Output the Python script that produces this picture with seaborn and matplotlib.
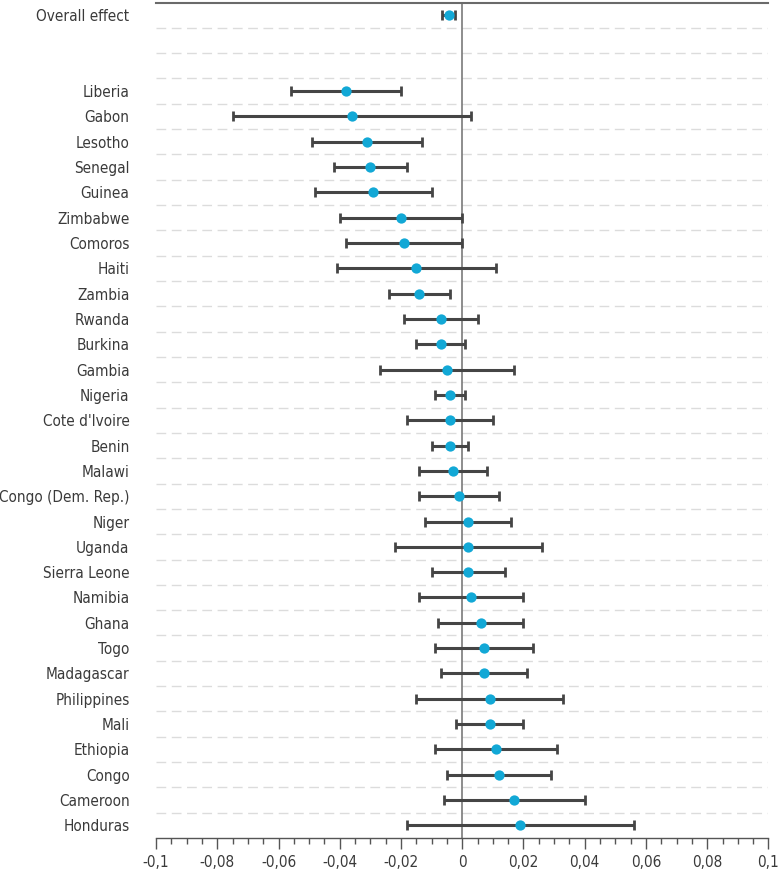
import matplotlib
matplotlib.use("Agg")
import matplotlib.font_manager as fm
import matplotlib.pyplot as plt
import matplotlib.ticker as mticker
import pandas as pd
import seaborn as sns

# Effect estimates with confidence intervals
overall_label = "Overall effect"
overall_est = -0.0044
overall_lo = -0.0065
overall_hi = -0.0023

countries = [
    "Liberia", "Gabon", "Lesotho", "Senegal", "Guinea", "Zimbabwe", "Comoros",
    "Haiti", "Zambia", "Rwanda", "Burkina", "Gambia", "Nigeria", "Cote d'Ivoire",
    "Benin", "Malawi", "Congo (Dem. Rep.)", "Niger", "Uganda", "Sierra Leone",
    "Namibia", "Ghana", "Togo", "Madagascar", "Philippines", "Mali", "Ethiopia",
    "Congo", "Cameroon", "Honduras",
]
estimates = [
    -0.038, -0.036, -0.031, -0.030, -0.029, -0.020, -0.019,
    -0.015, -0.014, -0.007, -0.007, -0.005, -0.004, -0.004,
    -0.004, -0.003, -0.001, 0.002, 0.002, 0.002,
    0.003, 0.006, 0.007, 0.007, 0.009, 0.009, 0.011,
    0.012, 0.017, 0.019,
]
ci_low = [
    -0.056, -0.075, -0.049, -0.042, -0.048, -0.040, -0.038,
    -0.041, -0.024, -0.019, -0.015, -0.027, -0.009, -0.018,
    -0.010, -0.014, -0.014, -0.012, -0.022, -0.010,
    -0.014, -0.008, -0.009, -0.007, -0.015, -0.002, -0.009,
    -0.005, -0.006, -0.018,
]
ci_high = [
    -0.020, 0.003, -0.013, -0.018, -0.010, 0.000, 0.000,
    0.011, -0.004, 0.005, 0.001, 0.017, 0.001, 0.010,
    0.002, 0.008, 0.012, 0.016, 0.026, 0.014,
    0.020, 0.020, 0.023, 0.021, 0.033, 0.020, 0.031,
    0.029, 0.040, 0.056,
]
x_ticks = [-0.1, -0.08, -0.06, -0.04, -0.02, 0, 0.02, 0.04, 0.06, 0.08, 0.1]

DOT = "#12a8d6"
BAR = "#454545"
TEXT = "#3a3a3a"


def pick_narrow_font():
    # the original uses a condensed sans; take one if the system has it
    for f in fm.fontManager.ttflist:
        name = f.name.lower()
        narrow = ("narrow" in name or "condensed" in name
                  or f.stretch in ("condensed", "semi-condensed"))
        if narrow and f.style == "normal" and f.weight in (400, "normal", "regular"):
            return f.name, f.stretch
    return "Lato", "normal"


# overall effect on row 0, two empty rows, then the countries
labels = [overall_label, "", ""] + countries
df = pd.DataFrame({
    "row": [0] + list(range(3, 3 + len(countries))),
    "est": [overall_est] + estimates,
    "lo": [overall_lo] + ci_low,
    "hi": [overall_hi] + ci_high,
})
n_rows = len(labels)

sns.set_style("white")
font_name, font_stretch = pick_narrow_font()
plt.rcParams["font.family"] = [font_name, "DejaVu Sans"]
plt.rcParams["font.stretch"] = font_stretch
label_size = 11 if font_name != "Lato" else 10

fig = plt.figure(figsize=(7.82, 8.74), dpi=100)
ax = fig.add_axes([0.1995, 0.0412, 0.7832, 0.9559])

# dashed separators between rows
for k in range(n_rows - 1):
    ax.axhline(k + 0.5, color="#dcdcdc", lw=1, ls=(0, (7, 4)), zorder=0)

ax.axvline(0, color="#7a7a7a", lw=1.2, zorder=1)

ax.errorbar(
    df["est"], df["row"],
    xerr=[df["est"] - df["lo"], df["hi"] - df["est"]],
    fmt="none", ecolor=BAR, elinewidth=2.2, capsize=3.5, capthick=2, zorder=2,
)
sns.scatterplot(data=df, x="est", y="row", color=DOT, s=55, linewidth=0,
                zorder=3, ax=ax)

ax.set_xlim(-0.1, 0.1)
ax.set_ylim(n_rows - 0.5, -0.5)
ax.set_yticks(range(n_rows))
ax.set_yticklabels(labels)
ax.set_xticks(x_ticks)
ax.set_xticklabels([("%g" % t).replace(".", ",") for t in x_ticks])
ax.xaxis.set_minor_locator(mticker.MultipleLocator(0.005))
ax.set_xlabel("")
ax.set_ylabel("")

ax.tick_params(axis="y", length=0, pad=19, labelsize=label_size, labelcolor=TEXT)
ax.tick_params(axis="x", which="major", direction="out", length=8, width=1,
               color="#555555", pad=4, labelsize=label_size, labelcolor=TEXT,
               bottom=True)
ax.tick_params(axis="x", which="minor", direction="out", length=4, width=1,
               color="#555555", bottom=True)

for side in ["left", "right"]:
    ax.spines[side].set_visible(False)
ax.spines["top"].set_color("#6a6a6a")
ax.spines["top"].set_linewidth(1.5)
ax.spines["bottom"].set_color("#555555")
ax.spines["bottom"].set_linewidth(1)

fig.savefig("out.png", dpi=100)
